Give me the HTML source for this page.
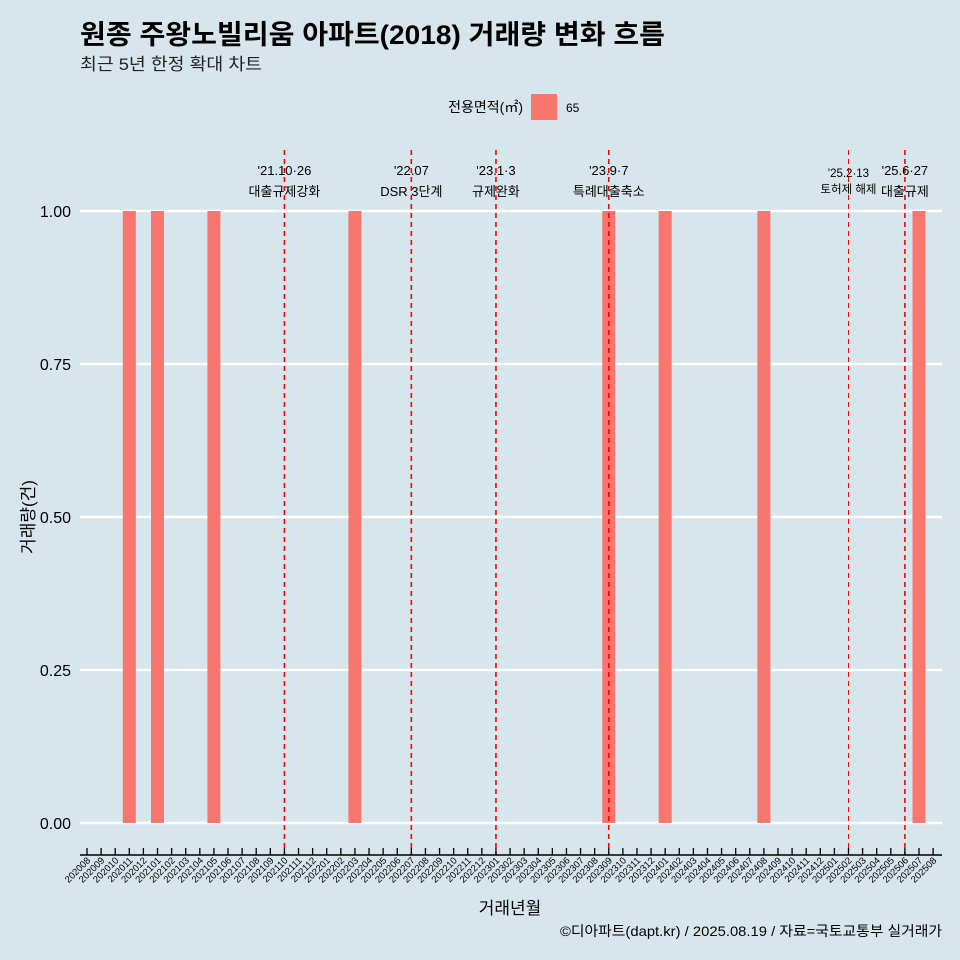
<!DOCTYPE html>
<html><head><meta charset="utf-8"><style>
body{margin:0;background:#d7e5ec;overflow:hidden;}
svg{display:block;}
svg text{font-family:"Liberation Sans","Noto Sans CJK KR",sans-serif;}
</style></head><body>
<svg id="c" width="960" height="960" xmlns="http://www.w3.org/2000/svg">
<rect width="960" height="960" fill="#d7e5ec"/>
<text x="80" y="44" font-size="27" font-weight="bold" fill="#000" textLength="585" lengthAdjust="spacingAndGlyphs">원종 주왕노빌리움 아파트(2018) 거래량 변화 흐름</text>
<text x="80" y="70" font-size="17" fill="#222" textLength="182" lengthAdjust="spacingAndGlyphs">최근 5년 한정 확대 차트</text>
<g>
<text x="523" y="112" font-size="14" text-anchor="end">전용면적(㎡)</text>
<rect x="531" y="94" width="26" height="26" fill="#f8766d"/>
<text x="566" y="112" font-size="12">65</text>
</g>
<g id="grid"></g><g id="bars"></g><g id="vlines"></g><g id="xaxis"></g>
<text x="510" y="914" font-size="17" text-anchor="middle">거래년월</text>
<text transform="translate(34,517) rotate(-90)" font-size="17" text-anchor="middle">거래량(건)</text>
<text x="942" y="936" font-size="14" text-anchor="end" textLength="382" lengthAdjust="spacingAndGlyphs">©디아파트(dapt.kr) / 2025.08.19 / 자료=국토교통부 실거래가</text>
</svg>
<script>
const categories=[];for(let y=2020,m=8;y<2025||(y===2025&&m<=8);){categories.push(y+String(m).padStart(2,'0'));m++;if(m>12){m=1;y++;}}
const barMonths=['202011','202101','202105','202203','202309','202401','202408','202507'];
const barValues=[1,1,1,1,1,1,1,1];
const yTicks=[0,0.25,0.5,0.75,1];
const yTickLabels=['0.00','0.25','0.50','0.75','1.00'];
const eventMonths=['202110','202207','202301','202309','202502','202506'];
const eventLine1=["'21.10·26","'22.07","'23.1·3","'23.9·7","'25.2·13","'25.6·27"];
const eventLine2=['대출규제강화','DSR 3단계','규제완화','특례대출축소','토허제 해제','대출규제'];
const eventSmall=[false,false,false,false,true,false];
const NS='http://www.w3.org/2000/svg';
const xs=i=>87+i*(919-87)/59;
const ys=v=>823-v*612;
function mk(t,a,p){const e=document.createElementNS(NS,t);for(const k in a)e.setAttribute(k,a[k]);p.appendChild(e);return e;}
const grid=document.getElementById('grid');
yTicks.forEach((v,i)=>{
 const l=mk('line',{x1:80,x2:942,y1:ys(v),y2:ys(v),stroke:'#fff','stroke-width':2.4},grid);
 
 
 const t=mk('text',{x:71,y:ys(v)+6,'font-size':16,'text-anchor':'end'},grid);t.textContent=yTickLabels[i];
 
 
});
const bars=document.getElementById('bars');
barMonths.forEach((m,i)=>{
 const x=xs(categories.indexOf(m));
 const r=mk('rect',{x:x-6.5,y:ys(barValues[i]),width:13,height:ys(0)-ys(barValues[i]),fill:'#f8766d'},bars);
 
 
});
const vl=document.getElementById('vlines');
eventMonths.forEach((m,i)=>{
 const x=xs(categories.indexOf(m));
 const l=mk('line',{x1:x,x2:x,y1:150,y2:855,stroke:'#ff0000','stroke-width':eventSmall[i]?1:1.6,'stroke-dasharray':'5 4'},vl);
 
 
 const fs=eventSmall[i]?11.5:13;
 const t1=mk('text',{x:x,y:eventSmall[i]?177:175,'font-size':fs,'text-anchor':'middle'},vl);t1.textContent=eventLine1[i];
 
 
 const t2=mk('text',{x:x,y:eventSmall[i]?193:196,'font-size':fs,'text-anchor':'middle'},vl);t2.textContent=eventLine2[i];
 
 
});
const xa=document.getElementById('xaxis');
const al=mk('line',{x1:80,x2:942,y1:855,y2:855,stroke:'#000','stroke-width':1.5},xa);


categories.forEach((c,i)=>{
 const x=xs(i);
 const tk=mk('line',{x1:x,x2:x,y1:848,y2:855,stroke:'#000','stroke-width':1.3},xa);
 
 
 const t=mk('text',{transform:`translate(${x+4},${861}) rotate(-45)`,'font-size':9.5,'text-anchor':'end'},xa);t.textContent=c;
 
 
});
</script>
</body></html>
